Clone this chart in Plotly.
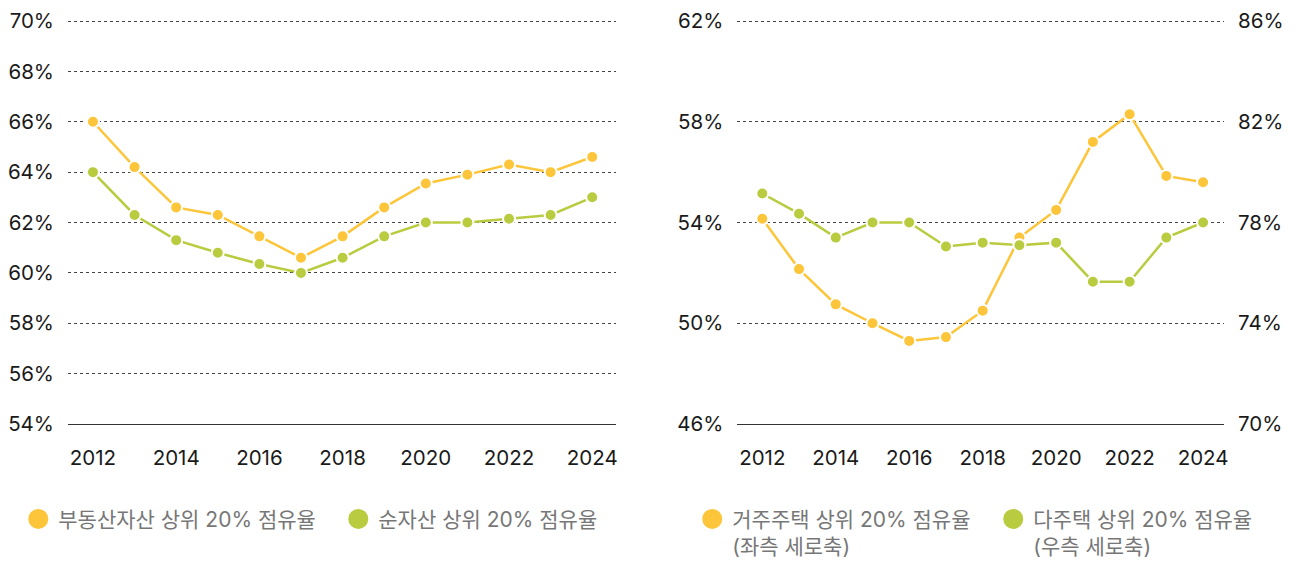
import plotly.graph_objects as go

YEARS = list(range(2012, 2025))

# left panel: top-20% share of real-estate assets vs. net assets (%)
REAL_ESTATE_TOP20 = [66.0, 64.2, 62.6, 62.3, 61.45, 60.6, 61.45, 62.6, 63.55, 63.9, 64.3, 64.0, 64.6]
NET_ASSET_TOP20 = [64.0, 62.3, 61.3, 60.8, 60.35, 60.0, 60.6, 61.45, 62.0, 62.0, 62.15, 62.3, 63.0]

# right panel: owner-occupied home share (left axis) vs. multi-home share (right axis)
OWN_HOME_TOP20 = [54.15, 52.15, 50.75, 50.0, 49.3, 49.45, 50.5, 53.4, 54.5, 57.2, 58.3, 55.85, 55.6]
MULTI_HOME_TOP20 = [79.15, 78.35, 77.4, 78.0, 78.0, 77.05, 77.2, 77.1, 77.2, 75.65, 75.65, 77.4, 78.0]

LEFT_NAMES = ['부동산자산 상위 20% 점유율', '순자산 상위 20% 점유율']
RIGHT_NAMES = ['거주주택 상위 20% 점유율<br>(좌측 세로축)', '다주택 상위 20% 점유율<br>(우측 세로축)']

ORANGE = '#FDC53A'
GREEN = '#B9CB3F'
FONT = 'Inter, Noto Sans CJK KR, sans-serif'
GRID = '#444444'
TICK_FONT = dict(size=20.5, color='#1a1a1a')


def line(x, y, colour, xaxis, yaxis):
    return go.Scatter(x=x, y=y, mode='lines+markers', xaxis=xaxis, yaxis=yaxis,
                      line=dict(color=colour, width=2.5),
                      marker=dict(size=12, color=colour, line=dict(color='white', width=2)),
                      showlegend=False, hoverinfo='x+y')


def key(name, colour, legend):
    return go.Scatter(x=[None], y=[None], mode='markers', name=name, legend=legend,
                      marker=dict(size=16, color=colour, line=dict(color=colour, width=4)))


fig = go.Figure()
fig.add_trace(line(YEARS, REAL_ESTATE_TOP20, ORANGE, 'x', 'y'))
fig.add_trace(line(YEARS, NET_ASSET_TOP20, GREEN, 'x', 'y'))
fig.add_trace(line(YEARS, MULTI_HOME_TOP20, GREEN, 'x2', 'y3'))
fig.add_trace(line(YEARS, OWN_HOME_TOP20, ORANGE, 'x2', 'y2'))

fig.add_trace(key(LEFT_NAMES[0], ORANGE, 'legend'))
fig.add_trace(key(LEFT_NAMES[1], GREEN, 'legend'))
fig.add_trace(key(RIGHT_NAMES[0], ORANGE, 'legend2'))
fig.add_trace(key(RIGHT_NAMES[1], GREEN, 'legend2'))

xaxis_style = dict(tickmode='linear', tick0=2012, dtick=2, showgrid=False, zeroline=False,
                   showline=True, linecolor='#333333', linewidth=1, ticks='',
                   ticklabelstandoff=15, tickfont=TICK_FONT)
yaxis_style = dict(showgrid=True, gridcolor=GRID, griddash='dot', gridwidth=1,
                   zeroline=False, ticks='', ticksuffix='%', ticklabelstandoff=13,
                   tickfont=TICK_FONT)

legend_style = dict(orientation='h', xref='paper', yref='paper', yanchor='top', xanchor='left',
                    font=dict(size=21, color='#777777', family=FONT), valign='top',
                    bgcolor='rgba(0,0,0,0)', itemclick=False, itemdoubleclick=False)

# the page adds an 8px body margin, so margins are shifted to keep the plot in place
fig.update_layout(
    width=1301, height=565,
    margin=dict(l=60, r=85, t=12, b=149, autoexpand=False),
    paper_bgcolor='white', plot_bgcolor='white',
    font=dict(family=FONT, color='#1a1a1a'),
    xaxis=dict(domain=[0, 0.474], range=[2011.4, 2024.57], anchor='y', **xaxis_style),
    yaxis=dict(range=[54, 70.04], tick0=54, dtick=2, anchor='x', **yaxis_style),
    xaxis2=dict(domain=[0.579, 1], range=[2011.32, 2024.57], anchor='y2', **xaxis_style),
    yaxis2=dict(range=[46, 62.04], tick0=46, dtick=4, anchor='x2', **yaxis_style),
    yaxis3=dict(range=[70, 86.04], tick0=70, dtick=4, anchor='x2', overlaying='y2',
                side='right', showgrid=False, zeroline=False, ticks='', ticksuffix='%',
                ticklabelstandoff=13, tickfont=TICK_FONT),
    legend=dict(x=-0.043, y=-0.185, entrywidth=275, **legend_style),
    legend2=dict(x=0.540, y=-0.185, entrywidth=256, **legend_style),
    hovermode='closest',
)

fig.write_html('out.html')
